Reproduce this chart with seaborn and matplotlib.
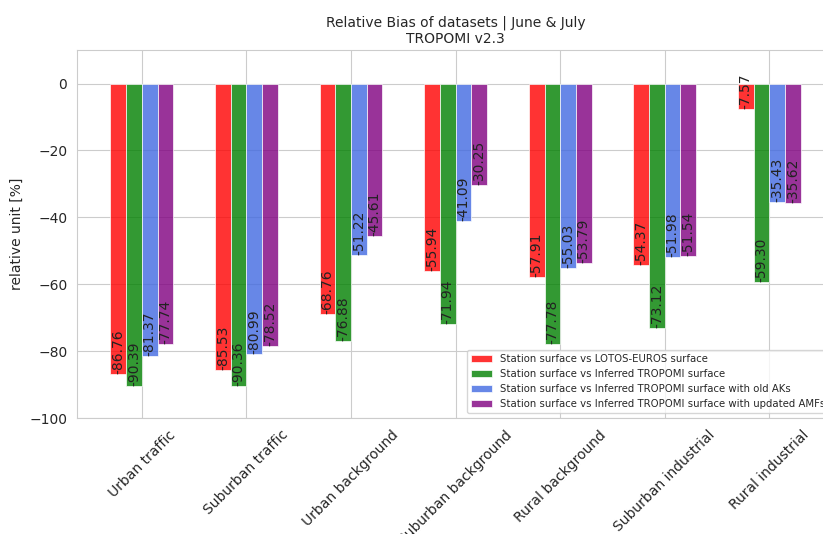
import numpy as np
import pandas as pd
import matplotlib
matplotlib.use("Agg")
import matplotlib.pyplot as plt
import seaborn as sns

# station types (x axis)
categories = ['Urban traffic', 'Suburban traffic', 'Urban background', 'Suburban background',
              'Rural background', 'Suburban industrial', 'Rural industrial']

# relative bias [%] per dataset
lotos_euros = [-86.76, -85.53, -68.76, -55.94, -57.91, -54.37, -7.57]
inferred = [-90.39, -90.36, -76.88, -71.94, -77.78, -73.12, -59.30]
old_aks = [-81.37, -80.99, -51.22, -41.09, -55.03, -51.98, -35.43]
updated_amfs = [-77.74, -78.52, -45.61, -30.25, -53.79, -51.54, -35.62]

series_names = ['Station surface vs LOTOS-EUROS surface',
                'Station surface vs Inferred TROPOMI surface',
                'Station surface vs Inferred TROPOMI surface with old AKs',
                'Station surface vs Inferred TROPOMI surface with updated AMFs']
colors = ['red', 'green', 'royalblue', 'purple']

# long format for seaborn
rows = []
for name, vals in zip(series_names, [lotos_euros, inferred, old_aks, updated_amfs]):
    for cat, v in zip(categories, vals):
        rows.append({'station': cat, 'dataset': name, 'bias': v})
df = pd.DataFrame(rows)

sns.set_style('whitegrid')
fig = plt.figure(figsize=(8.23, 5.34), dpi=100)
# axes run a bit past the right edge (the original was cropped)
ax = fig.add_axes([0.0936, 0.2172, 0.92, 0.689])

sns.barplot(data=df, x='station', y='bias', hue='dataset', palette=colors,
            saturation=1, alpha=0.8, width=0.6, edgecolor='white', linewidth=0.6,
            ax=ax)

# value labels inside the bars, rotated
for cont in ax.containers:
    for bar in cont:
        h = bar.get_height()
        ax.text(bar.get_x() + bar.get_width() / 2, h, '%.2f' % h, rotation=90,
                ha='center', va='bottom', fontsize=10, color='#222222')

ax.set_ylim(-100, 10)
ax.set_xlim(-0.62, 6.62)
ax.set_yticks([0, -20, -40, -60, -80, -100])
ax.xaxis.grid(True)
ax.set_axisbelow(True)
ax.set_xlabel('')
ax.set_ylabel('relative unit [%]', fontsize=10)
plt.setp(ax.get_xticklabels(), rotation=45, ha='center', fontsize=10)
ax.tick_params(axis='y', labelsize=10)
ax.set_title('Relative Bias of datasets | June & July\nTROPOMI v2.3', fontsize=10, pad=5)
ax.legend(loc='lower right', fontsize=7.3, frameon=True)

fig.savefig('out.png', dpi=100)
